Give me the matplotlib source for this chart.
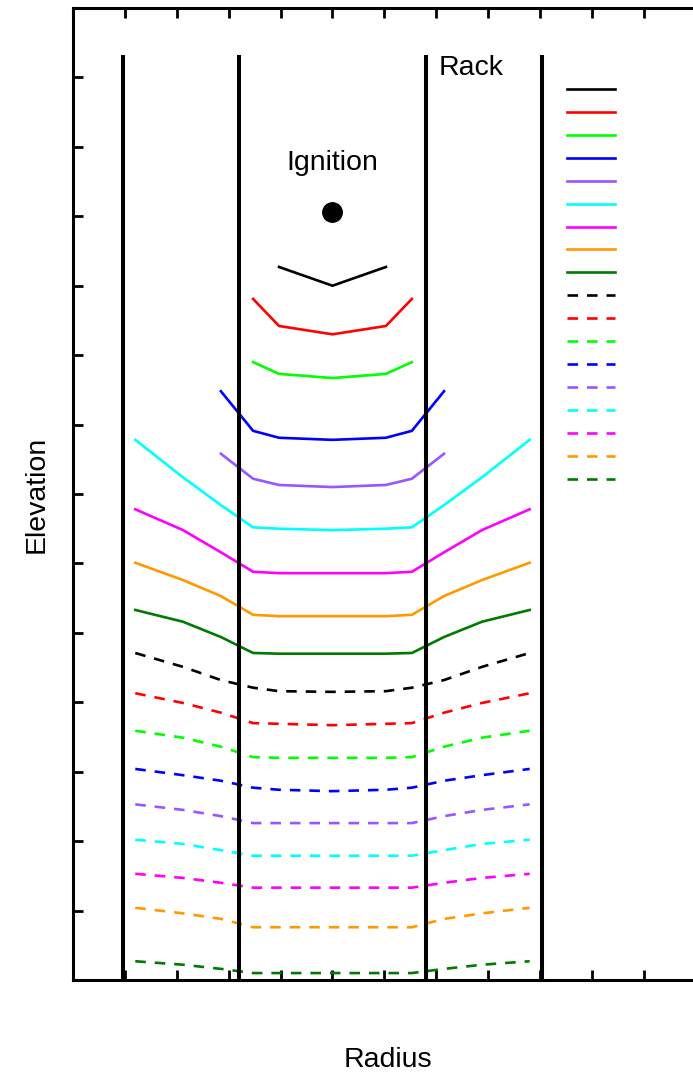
import numpy as np
import matplotlib.pyplot as plt

plt.rcParams['font.family'] = ['Liberation Sans', 'DejaVu Sans']

# radial grid positions of the front points (rack centre at 5)
radius = [1.2, 2.12, 2.85, 3.47, 3.97, 5.0, 6.03, 6.53, 7.15, 7.88, 8.8]

# half profiles from the outermost point in to the centre; mirrored below
front_t01 = [np.nan, np.nan, np.nan, np.nan, 10.27, 10.0]
front_t02 = [np.nan, np.nan, np.nan, 9.81, 9.42, 9.30]
front_t03 = [np.nan, np.nan, np.nan, 8.90, 8.73, 8.67]
front_t04 = [np.nan, np.nan, 8.48, 7.91, 7.81, 7.78]
front_t05 = [np.nan, np.nan, 7.58, 7.22, 7.13, 7.10]
front_t06 = [7.78, 7.24, 6.84, 6.52, 6.50, 6.48]
front_t07 = [6.78, 6.48, 6.16, 5.88, 5.86, 5.86]
front_t08 = [6.01, 5.76, 5.53, 5.26, 5.24, 5.24]
front_t09 = [5.33, 5.16, 4.94, 4.71, 4.70, 4.70]
front_t10 = [4.71, 4.51, 4.32, 4.21, 4.16, 4.15]
front_t11 = [4.13, 3.99, 3.85, 3.70, 3.69, 3.67]
front_t12 = [3.59, 3.49, 3.36, 3.21, 3.20, 3.20]
front_t13 = [3.04, 2.95, 2.87, 2.77, 2.74, 2.72]
front_t14 = [2.53, 2.45, 2.36, 2.26, 2.26, 2.26]
front_t15 = [2.02, 1.96, 1.87, 1.79, 1.79, 1.79]
front_t16 = [1.53, 1.47, 1.40, 1.33, 1.33, 1.33]
front_t17 = [1.04, 0.96, 0.88, 0.76, 0.76, 0.76]
front_t18 = [0.27, 0.22, 0.16, 0.10, 0.10, 0.10]

fronts = [front_t01, front_t02, front_t03, front_t04, front_t05, front_t06,
          front_t07, front_t08, front_t09, front_t10, front_t11, front_t12,
          front_t13, front_t14, front_t15, front_t16, front_t17, front_t18]

colors = ['black', '#ff0000', '#00ff00', '#0000ff', '#9955ff', '#00ffff',
          '#ff00ff', '#ff9900', '#007a00']

rack_walls = [0.97, 3.19, 6.81, 9.03]
rack_top = 13.32
ignition_x, ignition_y = 5.0, 11.06

fig = plt.figure(figsize=(6.93, 10.73), dpi=100)
ax = fig.add_axes([73 / 693, 93 / 1073, 630 / 693, 972 / 1073])

ax.vlines(rack_walls, 0, rack_top, color='black', lw=2.9, zorder=3)

handles = []
for i, half in enumerate(fronts):
    y = np.array(half + half[-2::-1])
    col = colors[i % 9]
    if i < 9:
        ln, = ax.plot(radius, y, color=col, lw=1.9, solid_joinstyle='miter')
    else:
        ln, = ax.plot(radius, y, color=col, lw=1.9, dashes=(4, 3.4))
    handles.append(ln)

ax.plot([ignition_x], [ignition_y], 'o', color='black', ms=14)
ax.text(ignition_x, 11.77, 'Ignition', ha='center', va='center', fontsize=20.5)
ax.text(7.04, 13.13, 'Rack', ha='left', va='center', fontsize=20.5)

ax.legend(handles, [''] * len(handles), loc='upper left',
          bbox_to_anchor=(0.784, 0.923), frameon=False, fontsize=12,
          handlelength=2.9, handletextpad=0, borderpad=0, borderaxespad=0,
          labelspacing=0.475)

ax.set_xlim(0, 12.14)
ax.set_ylim(0, 14)
ax.set_xticks(np.arange(1, 12))
ax.set_yticks(np.arange(1, 14))
ax.tick_params(direction='in', length=7, width=2, labelbottom=False,
               labelleft=False, top=True, right=True)
for s in ax.spines.values():
    s.set_linewidth(2.2)

ax.set_xlabel('Radius', fontsize=20.5, labelpad=48)
ax.set_ylabel('Elevation', fontsize=20.5, labelpad=17)

fig.savefig('out.png', dpi=100)
